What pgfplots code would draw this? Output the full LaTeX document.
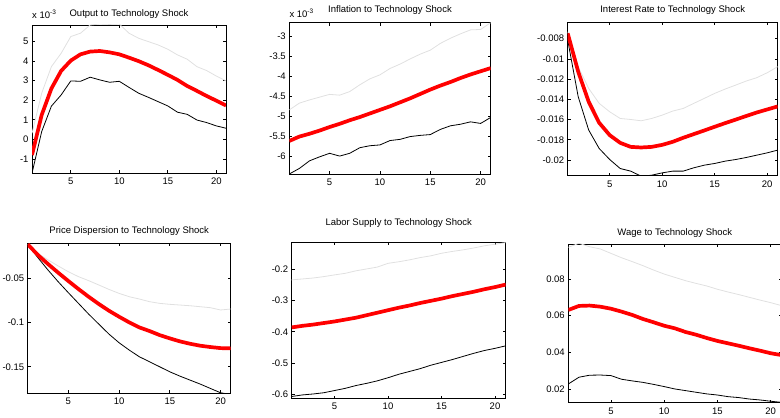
\documentclass[border=0pt]{standalone}
\usepackage{pgfplots}
\pgfplotsset{compat=1.18}
\usepackage{fontspec}
\setmainfont{Liberation Sans}
\definecolor{ubound}{gray}{0.88}
\newcommand{\fs}{\fontsize{9.5}{11}\selectfont}
\pgfplotsset{
  irf/.style={
    scale only axis, xmin=1, xmax=21, xtick={5,10,15,20},
    tick align=inside, major tick length=2.8pt,
    xtick pos=both, ytick pos=both,
    axis line style={line width=0.9pt},
    every tick/.style={black, line width=0.7pt},
    ticklabel style={font=\fs},
    xticklabel style={yshift=-1.5pt},
    /pgf/number format/assume math mode=true,
    scaled y ticks=false,
    title style={font=\fs, at={(0.5,1)}, anchor=center, yshift=6.7pt},
  },
  expo/.style={after end axis/.code={
    \node[anchor=base west, font=\fs, inner sep=0pt] at (rel axis cs:0,1) [yshift=#1] {x 10\raisebox{4pt}{\fontsize{6.5}{7}\selectfont -3}};}},
  mean/.style={red, line width=3.7pt, line join=round, no marks},
  upper/.style={ubound, line width=0.8pt, no marks},
  lower/.style={black, line width=0.8pt, no marks},
}
\begin{document}
\begin{tikzpicture}[x=1pt,y=1pt]
\useasboundingbox (0,0) rectangle (780,418);
% Output
\begin{axis}[irf, expo=6pt, at={(32pt,245pt)}, anchor=south west, width=194pt, height=148pt,
  ymin=-1.72, ymax=5.85, ytick={-1,0,1,2,3,4,5}, yticklabels={-1,0,1,2,3,4,5},
  title={Output to Technology Shock}, title style={yshift=-1.7pt}]
\addplot[upper] coordinates {(1,0.31)(2,2.36)(3,3.72)(4,4.4)(5,5.26)(6,5.43)(7,5.85)(8,5.9)(9,5.88)(10,5.9)(11,5.43)(12,5.17)(13,5.0)(14,4.83)(15,4.61)(16,4.32)(17,4.1)(18,3.72)(19,3.52)(20,3.24)(21,2.99)};
\addplot[lower] coordinates {(1,-1.73)(2,0.4)(3,1.7)(4,2.27)(5,2.99)(6,2.97)(7,3.18)(8,3.04)(9,2.92)(10,2.97)(11,2.66)(12,2.36)(13,2.15)(14,1.93)(15,1.71)(16,1.39)(17,1.28)(18,0.99)(19,0.86)(20,0.69)(21,0.57)};
\addplot[mean] coordinates {(1,-0.8)(2,1.25)(3,2.6)(4,3.5)(5,4.03)(6,4.35)(7,4.49)(8,4.52)(9,4.45)(10,4.35)(11,4.18)(12,4.0)(13,3.79)(14,3.55)(15,3.3)(16,3.04)(17,2.73)(18,2.48)(19,2.22)(20,1.98)(21,1.73)};
\end{axis}
% Inflation
\begin{axis}[irf, expo=5.5pt, at={(289.3pt,244pt)}, anchor=south west, width=201.4pt, height=151.3pt,
  ymin=-6.45, ymax=-2.65, ytick={-6,-5.5,-5,-4.5,-4,-3.5,-3}, yticklabels={-6,-5.5,-5,-4.5,-4,-3.5,-3},
  title={Inflation to Technology Shock}]
\addplot[upper] coordinates {(1,-4.84)(2,-4.67)(3,-4.59)(4,-4.52)(5,-4.45)(6,-4.47)(7,-4.38)(8,-4.21)(9,-4.06)(10,-3.96)(11,-3.8)(12,-3.69)(13,-3.56)(14,-3.44)(15,-3.34)(16,-3.17)(17,-3.04)(18,-2.93)(19,-2.83)(20,-2.82)(21,-2.65)};
\addplot[lower] coordinates {(1,-6.45)(2,-6.31)(3,-6.12)(4,-6.02)(5,-5.93)(6,-6.0)(7,-5.93)(8,-5.79)(9,-5.74)(10,-5.72)(11,-5.61)(12,-5.58)(13,-5.51)(14,-5.48)(15,-5.46)(16,-5.33)(17,-5.24)(18,-5.2)(19,-5.14)(20,-5.18)(21,-5.03)};
\addplot[mean] coordinates {(1,-5.62)(2,-5.51)(3,-5.44)(4,-5.36)(5,-5.27)(6,-5.19)(7,-5.10)(8,-5.02)(9,-4.93)(10,-4.84)(11,-4.75)(12,-4.65)(13,-4.55)(14,-4.44)(15,-4.33)(16,-4.23)(17,-4.14)(18,-4.04)(19,-3.95)(20,-3.87)(21,-3.79)};
\end{axis}
% Interest rate
\begin{axis}[irf, at={(567.7pt,242.3pt)}, anchor=south west, width=210pt, height=153pt,
  ymin=-0.02155, ymax=-0.00642, ytick={-0.02,-0.018,-0.016,-0.014,-0.012,-0.01,-0.008},
  yticklabels={-0.02,-0.018,-0.016,-0.014,-0.012,-0.01,-0.008},
  title={Interest Rate to Technology Shock}]
\addplot[upper] coordinates {(1,-0.0073)(2,-0.01077)(3,-0.01292)(4,-0.0144)(5,-0.01523)(6,-0.01589)(7,-0.01599)(8,-0.01612)(9,-0.01589)(10,-0.01556)(11,-0.01516)(12,-0.0149)(13,-0.0144)(14,-0.01391)(15,-0.01341)(16,-0.01298)(17,-0.01259)(18,-0.01219)(19,-0.01186)(20,-0.01137)(21,-0.01077)};
\addplot[lower] coordinates {(1,-0.00813)(2,-0.01374)(3,-0.01704)(4,-0.01886)(5,-0.01995)(6,-0.02084)(7,-0.0211)(8,-0.0216)(9,-0.0215)(10,-0.02127)(11,-0.0211)(12,-0.0211)(13,-0.02077)(14,-0.02051)(15,-0.02034)(16,-0.02011)(17,-0.01995)(18,-0.01975)(19,-0.01952)(20,-0.01929)(21,-0.01902)};
\addplot[mean] coordinates {(1,-0.00747)(2,-0.01127)(3,-0.01424)(4,-0.01632)(5,-0.01754)(6,-0.0183)(7,-0.0187)(8,-0.01876)(9,-0.0187)(10,-0.0185)(11,-0.0182)(12,-0.0178)(13,-0.01744)(14,-0.01708)(15,-0.01671)(16,-0.01635)(17,-0.016)(18,-0.01565)(19,-0.0153)(20,-0.015)(21,-0.0147)};
\end{axis}
% Price dispersion
\begin{axis}[irf, at={(27.7pt,24.7pt)}, anchor=south west, width=203pt, height=150pt,
  ymin=-0.180, ymax=-0.0104, ytick={-0.15,-0.1,-0.05}, yticklabels={-0.15,-0.1,-0.05},
  title={Price Dispersion to Technology Shock}]
\addplot[upper] coordinates {(1,-0.0115)(2,-0.0217)(3,-0.0292)(4,-0.036)(5,-0.0425)(6,-0.0481)(7,-0.0526)(8,-0.0575)(9,-0.0625)(10,-0.067)(11,-0.0708)(12,-0.0734)(13,-0.0764)(14,-0.0783)(15,-0.0794)(16,-0.0802)(17,-0.081)(18,-0.0821)(19,-0.0832)(20,-0.0858)(21,-0.0847)};
\addplot[lower] coordinates {(1,-0.0115)(2,-0.0266)(3,-0.0406)(4,-0.0538)(5,-0.0662)(6,-0.0783)(7,-0.0904)(8,-0.1017)(9,-0.113)(10,-0.1228)(11,-0.1311)(12,-0.1387)(13,-0.1443)(14,-0.15)(15,-0.1557)(16,-0.1606)(17,-0.1651)(18,-0.1696)(19,-0.1745)(20,-0.1794)(21,-0.1813)};
\addplot[mean] coordinates {(1,-0.0115)(2,-0.0236)(3,-0.0338)(4,-0.0436)(5,-0.053)(6,-0.0621)(7,-0.0708)(8,-0.079)(9,-0.0866)(10,-0.0934)(11,-0.0998)(12,-0.1055)(13,-0.1096)(14,-0.1142)(15,-0.1179)(16,-0.1213)(17,-0.124)(18,-0.1262)(19,-0.1277)(20,-0.1289)(21,-0.1292)};
\end{axis}
% Labor supply
\begin{axis}[irf, at={(291.7pt,19.7pt)}, anchor=south west, width=214pt, height=155.6pt,
  ymin=-0.6128, ymax=-0.115, ytick={-0.6,-0.5,-0.4,-0.3,-0.2}, yticklabels={-0.6,-0.5,-0.4,-0.3,-0.2},
  title={Labor Supply to Technology Shock}, title style={yshift=7.3pt}]
\addplot[upper] coordinates {(1,-0.234)(2,-0.231)(3,-0.228)(4,-0.2235)(5,-0.218)(6,-0.213)(7,-0.205)(8,-0.199)(9,-0.193)(10,-0.181)(11,-0.176)(12,-0.17)(13,-0.1627)(14,-0.157)(15,-0.1488)(16,-0.143)(17,-0.138)(18,-0.132)(19,-0.125)(20,-0.12)(21,-0.1147)};
\addplot[lower] coordinates {(1,-0.607)(2,-0.602)(3,-0.599)(4,-0.595)(5,-0.588)(6,-0.581)(7,-0.572)(8,-0.565)(9,-0.557)(10,-0.547)(11,-0.536)(12,-0.527)(13,-0.518)(14,-0.507)(15,-0.498)(16,-0.489)(17,-0.479)(18,-0.469)(19,-0.46)(20,-0.453)(21,-0.445)};
\addplot[mean] coordinates {(1,-0.386)(2,-0.381)(3,-0.377)(4,-0.372)(5,-0.367)(6,-0.361)(7,-0.355)(8,-0.347)(9,-0.339)(10,-0.331)(11,-0.323)(12,-0.316)(13,-0.308)(14,-0.301)(15,-0.294)(16,-0.286)(17,-0.279)(18,-0.272)(19,-0.264)(20,-0.257)(21,-0.249)};
\end{axis}
% Wage
\begin{axis}[irf, at={(568.3pt,15.3pt)}, anchor=south west, width=213pt, height=158.7pt,
  ymin=0.0125, ymax=0.0991, ytick={0.02,0.04,0.06,0.08}, yticklabels={0.02,0.04,0.06,0.08},
  title={Wage to Technology Shock}, title style={yshift=-1.4pt}]
\addplot[upper] coordinates {(1,0.0973)(2,0.0995)(3,0.0976)(4,0.0964)(5,0.094)(6,0.0916)(7,0.0895)(8,0.0873)(9,0.0849)(10,0.0827)(11,0.0809)(12,0.0791)(13,0.0776)(14,0.0762)(15,0.0744)(16,0.0729)(17,0.0715)(18,0.07)(19,0.0685)(20,0.0671)(21,0.0655)};
\addplot[lower] coordinates {(1,0.0227)(2,0.0264)(3,0.0275)(4,0.0276)(5,0.0273)(6,0.0253)(7,0.0244)(8,0.0236)(9,0.0225)(10,0.0213)(11,0.02)(12,0.0191)(13,0.0182)(14,0.0173)(15,0.0167)(16,0.0158)(17,0.0153)(18,0.0145)(19,0.014)(20,0.0133)(21,0.0127)};
\addplot[mean] coordinates {(1,0.0631)(2,0.0653)(3,0.0655)(4,0.0649)(5,0.0638)(6,0.0622)(7,0.0604)(8,0.0582)(9,0.0564)(10,0.0545)(11,0.0531)(12,0.0511)(13,0.0496)(14,0.0478)(15,0.0462)(16,0.0449)(17,0.0436)(18,0.0422)(19,0.0409)(20,0.0395)(21,0.0385)};
\end{axis}
\end{tikzpicture}
\end{document}
